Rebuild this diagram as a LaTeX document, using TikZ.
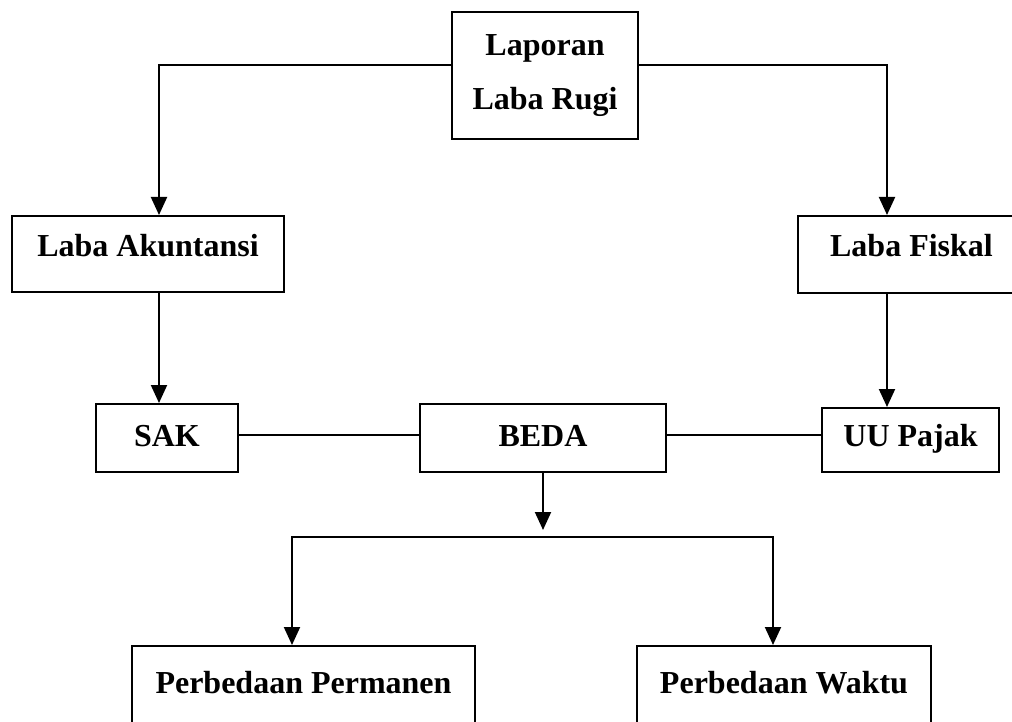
\documentclass[tikz,border=0pt]{standalone}
\usepackage{fontspec}
\setmainfont{Liberation Serif}
\usetikzlibrary{arrows.meta}
\tikzset{
  box/.style={draw, line width=2pt, inner sep=0pt, anchor=north west,
    font=\bfseries\fontsize{32}{54}\selectfont},
  conn/.style={line width=2pt},
  arr/.style={line width=2pt, -{Triangle[width=16pt,length=18pt]}}
}
\begin{document}
\begin{tikzpicture}[x=1pt,y=-1pt]
\useasboundingbox (0,0) rectangle (1012,722);
\clip (0,0) rectangle (1012,722);
\fill[white] (0,0) rectangle (1012,722);
% guide coordinates
\coordinate (xL) at (159,0);
\coordinate (xR) at (887,0);
\coordinate (xM) at (543,0);
\coordinate (xPL) at (292,0);
\coordinate (xPR) at (773,0);
\coordinate (yT) at (0,65);
\coordinate (yM) at (0,435);
\coordinate (yB) at (0,537);
\coordinate (bt) at (543,530);
% nodes
\node[box, align=center, minimum width=186pt, minimum height=127pt] (top) at (451,11) {Laporan\\Laba Rugi};
\node[box, minimum width=272pt, text height=40pt, text depth=36pt] (la) at (11,215) {Laba Akuntansi};
\node[box, minimum width=227pt, text height=40pt, text depth=37pt] (lf) at (797,215) {Laba Fiskal};
\node[box, minimum width=142pt, text height=42pt, text depth=26pt] (sak) at (95,403) {SAK};
\node[box, minimum width=246pt, text height=42pt, text depth=26pt] (beda) at (419,403) {BEDA};
\node[box, minimum width=177pt, text height=38pt, text depth=26pt] (uu) at (821,407) {UU Pajak};
\node[box, minimum width=343pt, text height=47pt, text depth=60pt] (pp) at (131,645) {Perbedaan Permanen};
\node[box, minimum width=294pt, text height=47pt, text depth=60pt] (pw) at (636,645) {Perbedaan Waktu};
% connectors
\draw[arr] (top.west |- yT) -| (la.north -| xL);
\draw[arr] (top.east |- yT) -| (lf.north -| xR);
\draw[arr] (la.south -| xL) -- (sak.north -| xL);
\draw[arr] (lf.south -| xR) -- (uu.north -| xR);
\draw[conn] (sak.east |- yM) -- (beda.west |- yM);
\draw[conn] (beda.east |- yM) -- (uu.west |- yM);
\draw[arr] (beda.south -| xM) -- (bt);
\draw[arr] (xM |- yB) -| (pp.north -| xPL);
\draw[arr] (xM |- yB) -| (pw.north -| xPR);
\end{tikzpicture}
\end{document}
